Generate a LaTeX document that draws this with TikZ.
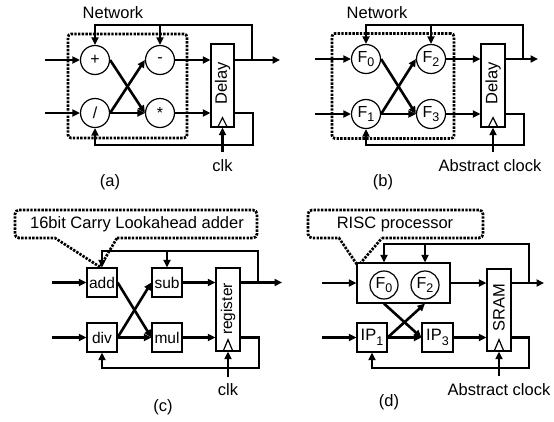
\documentclass[tikz,border=0pt]{standalone}
\usepackage{fontspec}
\setmainfont{Liberation Sans}
\usetikzlibrary{arrows.meta}
\newcommand\subidx[1]{\raisebox{-4.5pt}{\fontsize{12.5}{12.5}\selectfont #1}}
\tikzset{
  thk/.style={line width=2.6pt},
  arr/.style={-{Triangle[length=7.5pt,width=7pt]}},
  cir/.style={circle,draw,line width=1.2pt,minimum size=29pt,inner sep=0pt,fill=white,font=\fontsize{16}{16}\selectfont},
  blk/.style={rectangle,draw,line width=1.2pt,inner sep=0pt,fill=white,font=\fontsize{15.5}{15.5}\selectfont},
  regbox/.style={rectangle,draw,line width=1.2pt,inner sep=0pt,fill=white,minimum width=24pt,minimum height=83pt},
  dotline/.style={line width=2.7pt,dash pattern=on 2.4pt off 1.3pt},
  lbl/.style={font=\fontsize{16.5}{16.5}\selectfont,inner sep=0pt},
}
\begin{document}
\begin{tikzpicture}[x=1pt,y=-1pt]
\useasboundingbox (0,0) rectangle (554,421);
\fill[white] (0,0) rectangle (554,421);

% ================= (a) =================
\node[draw,dotline,rounded corners=3pt,minimum width=119pt,minimum height=104pt] (neta) at (127.5,86) {};
\node[lbl] (netlbla) at (113,13) {Network};
\node[cir] (pa) at (95,60) {+};
\node[cir] (ma) at (160,60) {-};
\node[cir] (da) at (95,113) {/};
\node[cir] (ua) at (160,113) {*};
\node[regbox,minimum width=23pt] (dla) at (222.5,85.5) {};
\node[lbl,rotate=90] (dlatxt) at (222.5,83) {Delay};
\draw[line width=1.2pt] (dla.south) ++(-5,0) -- ++(5,-10) -- ++(5,10);
\coordinate (ina1) at (45,60);
\coordinate (ina2) at (45,113);
\coordinate (outa) at (280,60);
\coordinate (fba) at (252,60);
\coordinate (ta) at (95,25);
\coordinate (ba) at (253,145);
\coordinate (clka) at (222.5,152);
\draw[thk,arr] (ina1) -- (pa.west);
\draw[thk,arr] (ina2) -- (da.west);
\draw[thk,arr] (pa.east) -- (ua.west);
\draw[thk,arr] (da.east) -- (ma.west);
\draw[thk,arr] (da.east) -- (ua.west);
\draw[thk,arr] (ma.east) -- (ma -| dla.west);
\draw[thk,arr] (ua.east) -- (ua -| dla.west);
\draw[thk,arr] (dla.east |- ma) -- (outa);
\draw[thk,arr] (fba) |- (ta) -- (pa.north);
\draw[thk,arr] (ma |- ta) -- (ma.north);
\draw[thk,arr] (dla.east |- ua) -| (ba) -| (da.south);
\draw[thk,arr] (clka) -- (dla.south);
\node[lbl] (clklbla) at (222.5,166) {clk};
\node[lbl] (capa) at (110,182) {(a)};

% ================= (b) =================
\node[draw,dotline,rounded corners=3pt,minimum width=122pt,minimum height=105pt] (netb) at (393,86) {};
\node[lbl] (netlblb) at (377,13) {Network};
\node[cir] (f0b) at (366,59) {F\subidx{0}};
\node[cir] (f2b) at (431,59) {F\subidx{2}};
\node[cir] (f1b) at (366,114) {F\subidx{1}};
\node[cir] (f3b) at (431,114) {F\subidx{3}};
\node[regbox] (dlb) at (493,85.5) {};
\node[lbl,rotate=90] (dlbtxt) at (493,83) {Delay};
\draw[line width=1.2pt] (dlb.south) ++(-5,0) -- ++(5,-10) -- ++(5,10);
\coordinate (inb1) at (315,59);
\coordinate (inb2) at (315,114);
\coordinate (outb) at (538,59);
\coordinate (fbb) at (523,59);
\coordinate (tb) at (366,25);
\coordinate (bb) at (524,145);
\coordinate (clkb) at (493,152);
\draw[thk,arr] (inb1) -- (f0b.west);
\draw[thk,arr] (inb2) -- (f1b.west);
\draw[thk,arr] (f0b.east) -- (f3b.west);
\draw[thk,arr] (f1b.east) -- (f2b.west);
\draw[thk,arr] (f1b.east) -- (f3b.west);
\draw[thk,arr] (f2b.east) -- (f2b -| dlb.west);
\draw[thk,arr] (f3b.east) -- (f3b -| dlb.west);
\draw[thk,arr] (dlb.east |- f2b) -- (outb);
\draw[thk,arr] (fbb) |- (tb) -- (f0b.north);
\draw[thk,arr] (f2b |- tb) -- (f2b.north);
\draw[thk,arr] (dlb.east |- f3b) -| (bb) -| (f1b.south);
\draw[thk,arr] (clkb) -- (dlb.south);
\node[lbl] (clklblb) at (490,166) {Abstract clock};
\node[lbl] (capb) at (383,182) {(b)};

% ================= (c) =================
\coordinate (tipc) at (100,267);
\draw[dotline] (117,238) [rounded corners=4pt] -- (257,238) -- (257,210) -- (15,210) -- (15,238) [sharp corners] -- (55,238) -- (tipc) -- cycle;
\node[lbl] (callc) at (137,224) {16bit Carry Lookahead adder};
\node[blk,minimum width=30pt,minimum height=29pt] (addc) at (102,282.5) {add};
\node[blk,minimum width=30pt,minimum height=29pt] (subc) at (167,282.5) {sub};
\node[blk,minimum width=30pt,minimum height=29pt] (divc) at (102,337.5) {div};
\node[blk,minimum width=30pt,minimum height=29pt] (mulc) at (167,337.5) {mul};
\node[regbox] (regc) at (228,309.5) {};
\node[rotate=90,inner sep=0pt,font=\fontsize{15.5}{15.5}\selectfont] (regctxt) at (228,309) {register};
\draw[line width=1.2pt] (regc.south) ++(-5,0) -- ++(5,-12) -- ++(5,12);
\coordinate (inc1) at (52,282.5);
\coordinate (inc2) at (52,337.5);
\coordinate (outc) at (282,282.5);
\coordinate (fbc) at (258,282.5);
\coordinate (tc) at (102,251);
\coordinate (bc) at (259,368);
\coordinate (clkc) at (228,377);
\draw[thk,arr] (inc1) -- (addc.west);
\draw[thk,arr] (inc2) -- (divc.west);
\draw[thk,arr] (addc.east) -- (mulc.west);
\draw[thk,arr] (divc.east) -- (subc.west);
\draw[thk,arr] (divc.east) -- (mulc.west);
\draw[thk,arr] (subc.east) -- (subc -| regc.west);
\draw[thk,arr] (mulc.east) -- (mulc -| regc.west);
\draw[thk,arr] (regc.east |- subc) -- (outc);
\draw[thk,arr] (fbc) |- (tc) -- (addc.north);
\draw[thk,arr] (subc |- tc) -- (subc.north);
\draw[thk,arr] (regc.east |- mulc) -| (bc) -| (divc.south);
\draw[thk,arr] (clkc) -- (regc.south);
\node[lbl] (clklblc) at (228,390) {clk};
\node[lbl] (capc) at (163,407) {(c)};

% ================= (d) =================
\coordinate (tipd) at (358,266);
\draw[dotline] (382,238) [rounded corners=4pt] -- (483,238) -- (483,210) -- (308,210) -- (308,238) [sharp corners] -- (339,238) -- (tipd) -- cycle;
\node[lbl] (calld) at (395,224) {RISC processor};
\node[blk,minimum width=93pt,minimum height=40pt] (risc) at (403.5,283) {};
\node[cir,minimum size=28pt] (f0d) at (384,285) {F\subidx{0}};
\node[cir,minimum size=28pt] (f2d) at (425,285) {F\subidx{2}};
\node[blk,minimum width=30pt,minimum height=29pt,font=\fontsize{16.5}{16.5}\selectfont] (ip1) at (372,337.5) {IP\subidx{1}};
\node[blk,minimum width=31pt,minimum height=29pt,font=\fontsize{16.5}{16.5}\selectfont] (ip3) at (437.5,337.5) {IP\subidx{3}};
\node[regbox,minimum height=82pt] (sram) at (499,310) {};
\node[lbl,rotate=90] (sramtxt) at (499,308) {SRAM};
\draw[line width=1.2pt] (sram.south) ++(-5,0) -- ++(5,-12) -- ++(5,12);
\coordinate (ind1) at (322,283);
\coordinate (ind2) at (322,337.5);
\coordinate (outd) at (544,283);
\coordinate (fbd) at (529,283);
\coordinate (td) at (384,244);
\coordinate (bd) at (529,368);
\coordinate (clkd) at (499,376);
\draw[thk,arr] (ind1) -- (risc.west);
\draw[thk,arr] (ind2) -- (ip1.west);
\draw[thk,arr] (f0d |- risc.south) -- (ip3.west);
\draw[thk,arr] (ip1.east) -- (f2d |- risc.south);
\draw[thk,arr] (ip1.east) -- (ip3.west);
\draw[thk,arr] (risc.east) -- (risc -| sram.west);
\draw[thk,arr] (ip3.east) -- (ip3 -| sram.west);
\draw[thk,arr] (sram.east |- risc) -- (outd);
\draw[thk,arr] (fbd) |- (td) -- (f0d |- risc.north);
\draw[thk,arr] (f2d |- td) -- (f2d |- risc.north);
\draw[thk,arr] (sram.east |- ip3) -| (bd) -| (ip1.south);
\draw[thk,arr] (clkd) -- (sram.south);
\node[lbl] (clklbld) at (499,390) {Abstract clock};
\node[lbl] (capd) at (389,402) {(d)};
\end{tikzpicture}
\end{document}
